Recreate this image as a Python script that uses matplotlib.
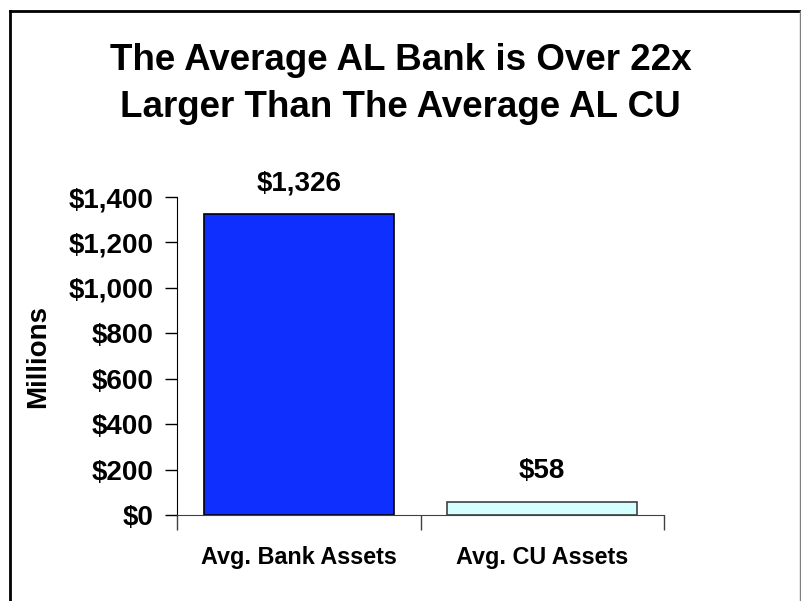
import matplotlib.pyplot as plt
from matplotlib.lines import Line2D
from matplotlib.ticker import FuncFormatter

categories = ['Avg. Bank Assets', 'Avg. CU Assets']
assets = [1326, 58]
bar_colors = ['#0f2fff', '#d4ffff']
title_lines = ['The Average AL Bank is Over 22x', 'Larger Than The Average AL CU']

plt.rcParams['font.family'] = ['Liberation Sans', 'DejaVu Sans']
plt.rcParams['font.weight'] = 'bold'

W, H = 801, 601
fig = plt.figure(figsize=(W / 100, H / 100), dpi=100)
ax = fig.add_axes([177 / W, 1 - 515 / H, 487 / W, 318 / H])

x = [0.5, 1.5]
ax.bar(x, assets, width=0.78, color=bar_colors, edgecolor=['black', '#404040'],
       linewidth=1.2)
for xi, v in zip(x, assets):
    ax.annotate('${:,.0f}'.format(v), (xi, v), xytext=(0, 17),
                textcoords='offset points', ha='center', va='baseline',
                fontsize=20, fontweight='bold')

# category names under the axis
for xi, name in zip(x, categories):
    ax.annotate(name, (xi, 0), xycoords=('data', 'axes fraction'),
                xytext=(0, -35.3), textcoords='offset points', ha='center',
                va='baseline', fontsize=16.8, fontweight='bold')

ax.set_xlim(0, 2)
ax.set_ylim(0, 1400)
ax.set_yticks(range(0, 1401, 200))
ax.yaxis.set_major_formatter(FuncFormatter(lambda v, p: '${:,.0f}'.format(v)))
ax.set_xticks([0, 1, 2])
ax.set_xticklabels([])
ax.tick_params(axis='x', direction='out', length=11, width=1, color='#404040')
ax.tick_params(axis='y', direction='out', length=9, width=1, labelsize=20, pad=8)
for lbl in ax.get_yticklabels():
    lbl.set_fontweight('bold')

ax.spines['top'].set_visible(False)
ax.spines['right'].set_visible(False)
ax.spines['bottom'].set_color('#404040')

ax.set_ylabel('Millions', fontsize=20, fontweight='bold')
ax.yaxis.set_label_coords(-126 / 487, 0.5)

for line, base in zip(title_lines, [70, 117]):
    fig.text(0.5, 1 - base / H, line, ha='center', va='baseline', fontsize=26.5,
             fontweight='bold')

# frame around the chart area
fig.add_artist(Line2D([10 / W, 10 / W], [0, 1 - 11 / H], color='black', lw=2))
fig.add_artist(Line2D([10 / W, 800 / W], [1 - 11 / H, 1 - 11 / H], color='black', lw=2))
fig.add_artist(Line2D([799.5 / W, 799.5 / W], [0, 1 - 11 / H], color='#808080', lw=1))

fig.savefig('out.png', dpi=100)
